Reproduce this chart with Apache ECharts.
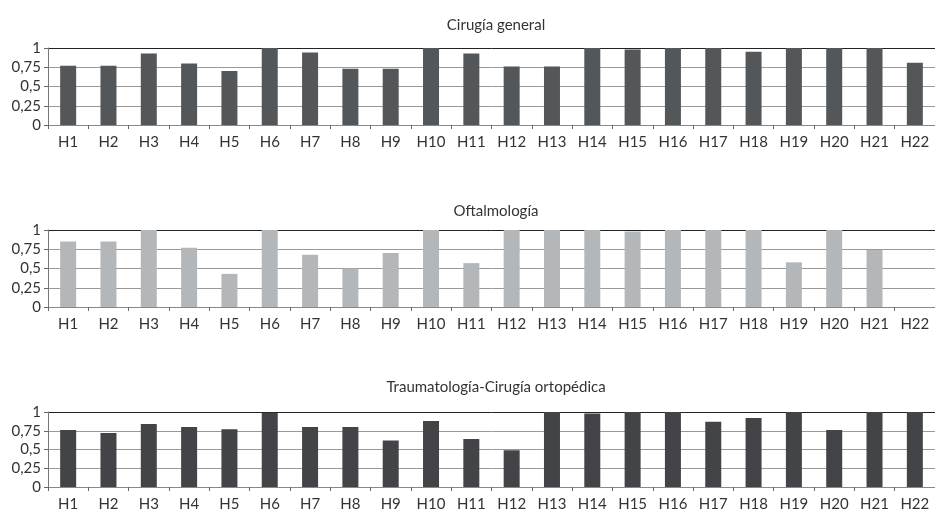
<!DOCTYPE html>
<html>
<head>
<meta charset="utf-8">
<script src="https://cdn.jsdelivr.net/npm/echarts@6/dist/echarts.min.js"></script>
<style>html,body{margin:0;padding:0;background:#fff}#c{width:935px;height:512px}</style>
</head>
<body>
<div id="c"></div>
<script>
const categories = ['H1','H2','H3','H4','H5','H6','H7','H8','H9','H10','H11','H12','H13','H14','H15','H16','H17','H18','H19','H20','H21','H22'];
const titles = ['Cirugía general','Oftalmología','Traumatología-Cirugía ortopédica'];
const cirugiaGeneral = [0.77,0.77,0.93,0.80,0.70,1,0.94,0.73,0.73,1,0.93,0.76,0.76,1,0.98,1,1,0.95,1,1,1,0.81];
const oftalmologia = [0.85,0.85,1,0.77,0.43,1,0.68,0.50,0.70,1,0.57,1,1,1,0.98,1,1,1,0.58,1,0.74,0];
const traumatologia = [0.76,0.72,0.84,0.80,0.77,0.99,0.80,0.80,0.62,0.88,0.64,0.49,1,0.98,1,1,0.87,0.92,1,0.76,1,1];
const yTicks = [0,0.25,0.5,0.75,1];

const seriesData = [cirugiaGeneral, oftalmologia, traumatologia];
const colors = ['#54575a','#b4b7b9','#434447'];
const gridTops = [48, 230, 412];
const titleTops = [13, 199, 375];
const font = 'Lato, "Open Sans", sans-serif';

const chart = echarts.init(document.getElementById('c'));
const option = {
  animation: false,
  title: titles.map((t,i)=>({
    text: t, left: 491, top: titleTops[i], textAlign: 'center',
    textStyle: {fontFamily: font, fontWeight: 'normal', fontSize: 15, color: '#333'}
  })),
  grid: gridTops.map(t=>({left: 48, right: 0, top: t, height: 77})),
  xAxis: gridTops.map((t,i)=>({
    type: 'category', gridIndex: i, data: categories,
    axisLine: {lineStyle: {color: '#888', width: 1}},
    axisTick: {show: true, length: 4, lineStyle: {color: '#666'}},
    axisLabel: {fontFamily: font, fontSize: 15, color: '#333', margin: 10, interval: 0}
  })),
  yAxis: gridTops.map((t,i)=>({
    type: 'value', gridIndex: i, min: 0, max: 1, interval: 0.25,
    axisLine: {show: true, lineStyle: {color: '#777'}},
    axisTick: {show: true, length: 4, lineStyle: {color: '#666'}},
    splitLine: {show: true, lineStyle: {color: ['#999','#999','#999','#999','#222'], width: 1}},
    axisLabel: {fontFamily: font, fontSize: 15, color: '#333', margin: 7,
      formatter: v => String(v).replace('.', ',')}
  })),
  series: seriesData.map((d,i)=>({
    type: 'bar', xAxisIndex: i, yAxisIndex: i, data: d, barWidth: 16,
    itemStyle: {color: colors[i]}
  }))
};
chart.setOption(option);
</script>
</body>
</html>
